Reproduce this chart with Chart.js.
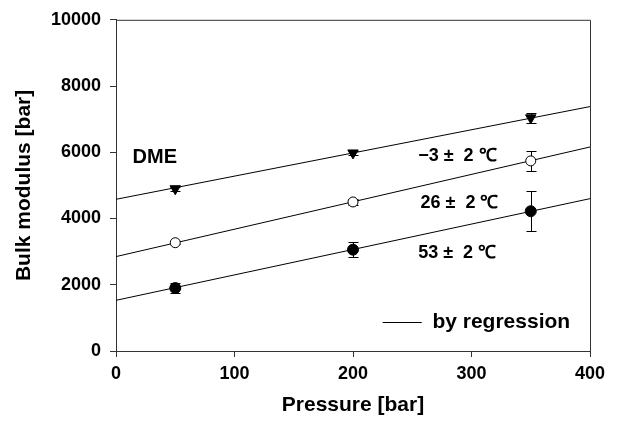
<!DOCTYPE html>
<html>
<head>
<meta charset="utf-8">
<script src="https://cdn.jsdelivr.net/npm/chart.js@4/dist/chart.umd.min.js"></script>
<style>
  html, body { margin: 0; padding: 0; background: #fff; }
  #chart { display: block; }
</style>
</head>
<body>
<canvas id="chart" width="619" height="423"></canvas>
<script>
// measured points (pressure in bar, bulk modulus in bar)
const pressures = [50, 200, 350];
const bmMinus3 = [4900, 5980, 7040];
const errMinus3 = [60, 60, 150];
const bm26 = [3270, 4500, 5740];
const err26 = [40, 100, 300];
const bm53 = [1900, 3060, 4220];
const err53 = [150, 230, 600];

// regression lines, end points
const fitPressures = [0, 400];
const fitMinus3 = [4580, 7380];
const fit26 = [2850, 6160];
const fit53 = [1530, 4600];

const xTicks = [0, 100, 200, 300, 400];
const yTicks = [0, 2000, 4000, 6000, 8000, 10000];

const FONT = 'Arial, "Liberation Sans", sans-serif';

function toPoints(xs, ys) {
  return xs.map((x, i) => ({ x: x, y: ys[i] }));
}

// error bars drawn from the dataset's own error array
const errorBarPlugin = {
  id: 'errorBars',
  beforeDatasetsDraw(chart) {
    const ctx = chart.ctx;
    const xs = chart.scales.x, ys = chart.scales.y;
    ctx.save();
    ctx.strokeStyle = '#000';
    ctx.lineWidth = 1;
    chart.data.datasets.forEach(ds => {
      if (!ds.errors) return;
      ds.data.forEach((p, i) => {
        const e = ds.errors[i];
        const px = Math.round(xs.getPixelForValue(p.x)) + 0.5;
        const top = Math.round(ys.getPixelForValue(p.y + e)) + 0.5;
        const bot = Math.round(ys.getPixelForValue(p.y - e)) + 0.5;
        ctx.beginPath();
        ctx.moveTo(px, top); ctx.lineTo(px, bot);
        ctx.moveTo(px - 5, top); ctx.lineTo(px + 5, top);
        ctx.moveTo(px - 5, bot); ctx.lineTo(px + 5, bot);
        ctx.stroke();
      });
    });
    ctx.restore();
  }
};

// frame + annotations + regression legend
const decorPlugin = {
  id: 'decor',
  afterDraw(chart) {
    const ctx = chart.ctx;
    const a = chart.chartArea;
    const xs = chart.scales.x, ys = chart.scales.y;
    ctx.save();
    ctx.strokeStyle = '#333';
    ctx.lineWidth = 1;
    ctx.beginPath();
    ctx.moveTo(a.left, a.top + 0.5); ctx.lineTo(a.right + 0.5, a.top + 0.5);
    ctx.lineTo(a.right + 0.5, a.bottom);
    ctx.stroke();

    ctx.fillStyle = '#000';
    ctx.textBaseline = 'middle';
    ctx.textAlign = 'left';
    ctx.font = 'bold 20px ' + FONT;
    ctx.fillText('DME', xs.getPixelForValue(14), ys.getPixelForValue(5850));
    ctx.font = 'bold 18px ' + FONT;
    ctx.fillText('\u22123 \u00b1  2 \u2103', xs.getPixelForValue(255), ys.getPixelForValue(5890));
    ctx.fillText('26 \u00b1  2 \u2103', xs.getPixelForValue(257), ys.getPixelForValue(4470));
    ctx.fillText('53 \u00b1  2 \u2103', xs.getPixelForValue(255), ys.getPixelForValue(2960));

    // legend
    const ly = Math.round(ys.getPixelForValue(870)) + 0.5;
    ctx.strokeStyle = '#000';
    ctx.beginPath();
    ctx.moveTo(xs.getPixelForValue(225), ly);
    ctx.lineTo(xs.getPixelForValue(258), ly);
    ctx.stroke();
    ctx.font = 'bold 21px ' + FONT;
    ctx.fillText('by regression', xs.getPixelForValue(267), ly);
    ctx.restore();
  }
};

const lineStyle = { type: 'line', borderColor: '#000', borderWidth: 1, pointRadius: 0, fill: false, order: 2 };

new Chart(document.getElementById('chart'), {
  type: 'scatter',
  data: {
    datasets: [
      Object.assign({ data: toPoints(fitPressures, fitMinus3) }, lineStyle),
      Object.assign({ data: toPoints(fitPressures, fit26) }, lineStyle),
      Object.assign({ data: toPoints(fitPressures, fit53) }, lineStyle),
      {
        data: toPoints(pressures, bmMinus3), errors: errMinus3,
        pointStyle: 'triangle', rotation: 180, pointRadius: 6,
        backgroundColor: '#000', borderColor: '#000', borderWidth: 1, order: 1
      },
      {
        data: toPoints(pressures, bm26), errors: err26,
        pointStyle: 'circle', pointRadius: 5,
        backgroundColor: '#fff', borderColor: '#000', borderWidth: 1, order: 1
      },
      {
        data: toPoints(pressures, bm53), errors: err53,
        pointStyle: 'circle', pointRadius: 5.5,
        backgroundColor: '#000', borderColor: '#000', borderWidth: 1, order: 1
      }
    ]
  },
  options: {
    responsive: false,
    animation: false,
    maintainAspectRatio: false,
    layout: { padding: { left: 0, top: 19, right: 29, bottom: 0 } },
    plugins: {
      legend: { display: false },
      tooltip: { enabled: false }
    },
    scales: {
      x: {
        type: 'linear', min: 0, max: 400,
        afterBuildTicks: s => { s.ticks = xTicks.map(v => ({ value: v })); },
        afterFit: s => { s.height = 72; },
        grid: { drawOnChartArea: false, tickLength: 6, color: '#333' },
        border: { color: '#333', width: 1 },
        ticks: {
          color: '#000', padding: 6, font: { family: FONT, size: 18, weight: 'bold' },
          callback: v => String(v)
        },
        title: {
          display: true, text: 'Pressure [bar]', color: '#000',
          font: { family: FONT, size: 21, weight: 'bold' }, padding: { top: 0, bottom: 5 }
        }
      },
      y: {
        type: 'linear', min: 0, max: 10000,
        afterBuildTicks: s => { s.ticks = yTicks.map(v => ({ value: v })); },
        afterFit: s => { s.width = 116; },
        grid: { drawOnChartArea: false, tickLength: 6, color: '#333' },
        border: { color: '#333', width: 1 },
        ticks: {
          color: '#000', padding: 9, font: { family: FONT, size: 18, weight: 'bold' },
          callback: v => String(v)
        },
        title: {
          display: true, text: 'Bulk modulus [bar]', color: '#000',
          font: { family: FONT, size: 21, weight: 'bold' }, padding: { top: 12, bottom: 0 }
        }
      }
    }
  },
  plugins: [errorBarPlugin, decorPlugin]
});
</script>
</body>
</html>
